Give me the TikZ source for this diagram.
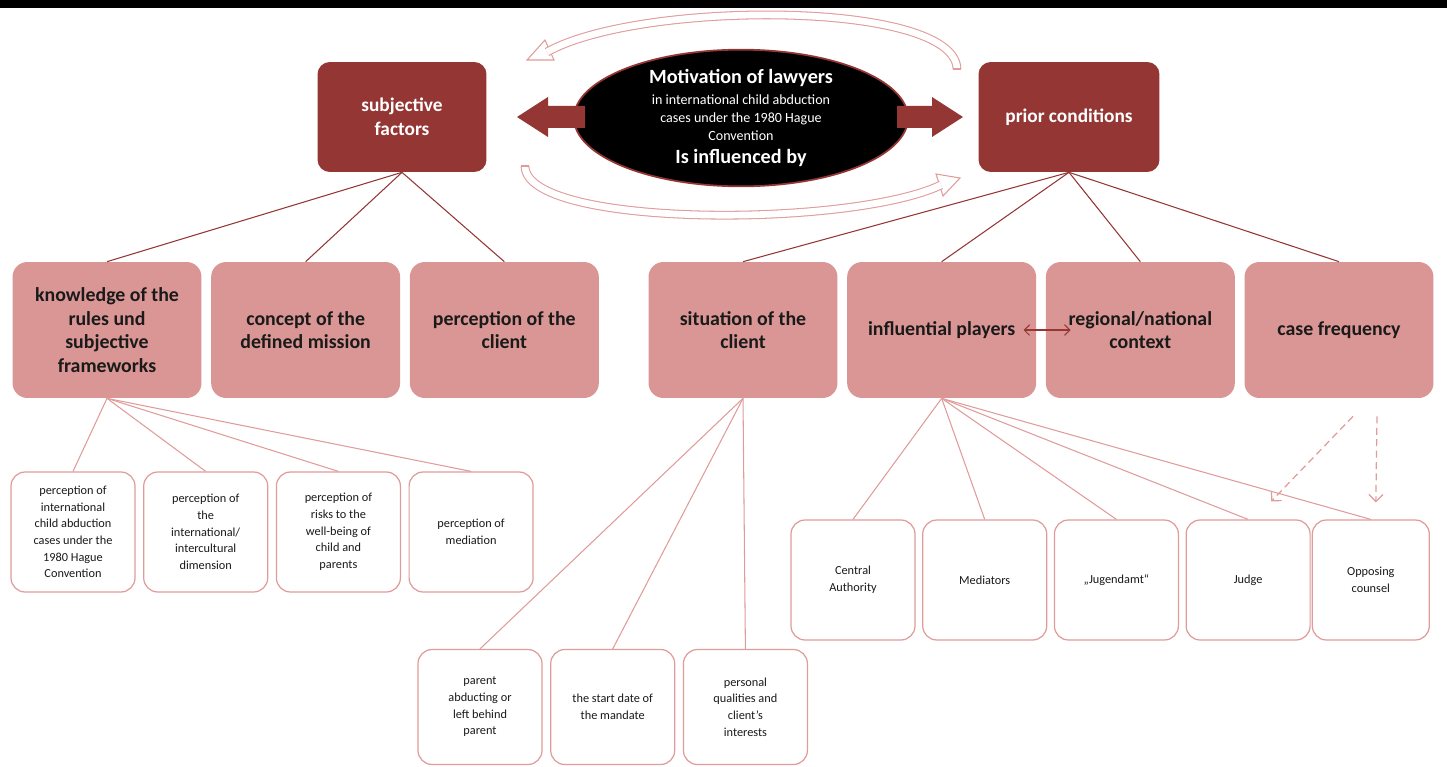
\documentclass[tikz,border=0pt]{standalone}
\usepackage{fontspec}
\setmainfont{Carlito}
\usepackage{tikz}
\usetikzlibrary{arrows.meta,calc,positioning,shapes.geometric}
\definecolor{darkred}{HTML}{943634}
\definecolor{rose}{HTML}{D99694}
\definecolor{roseedge}{HTML}{E09C9A}
\definecolor{ink}{HTML}{1A1A1A}

\begin{document}
\begin{tikzpicture}[x=0.02cm,y=-0.02cm,>={Straight Barb[length=3pt,width=6pt]},
  topbox/.style={fill=darkred,rounded corners=7pt,text=white,font=\bfseries\fontsize{11}{13.4}\selectfont,align=center,minimum height=2.2cm},
  midbox/.style={fill=rose,rounded corners=8.5pt,text=ink,font=\bfseries\fontsize{11.3}{13.4}\selectfont,align=center,minimum width=3.78cm,minimum height=2.72cm},
  leafbox/.style={draw=roseedge,line width=0.7pt,fill=white,rounded corners=8pt,text=ink,font=\fontsize{7}{9.5}\selectfont,align=center,minimum width=2.48cm,minimum height=2.4cm},
  darkline/.style={draw=darkred,line width=0.6pt},
  leafline/.style={draw=roseedge,line width=0.6pt},
  bendarrow/.style={draw=roseedge,line width=0.6pt,double=white,double distance=3.8pt},
  bendhead/.style={draw=roseedge,fill=white,line width=0.6pt,line join=miter},
  dasharrow/.style={draw=roseedge,line width=0.7pt,dash pattern=on 4pt off 2.5pt,-{Straight Barb[length=4pt,width=8pt]}}]
\useasboundingbox (0,0) rectangle (1447,767);
\fill[white] (0,0) rectangle (1447,767);
\fill[black] (0,0) rectangle (1447,8);

% circular arrows round the centre
\coordinate (ta) at (957,69); \coordinate (tb) at (525,166);
\filldraw[bendhead] (527,60) -- (554,60) -- (545,40) -- cycle;
\draw[bendarrow] (ta) .. controls (955,0) and (640,0) .. (547,52);
\draw[roseedge,line width=0.6pt] ($(ta)+(-4.4,0)$) -- ($(ta)+(4.4,0)$);
\filldraw[bendhead] (960,178) -- (943,196) -- (936,174) -- cycle;
\draw[bendarrow] (tb) .. controls (525,228) and (850,228) .. (941,185);
\draw[roseedge,line width=0.6pt] ($(tb)+(-4.4,0)$) -- ($(tb)+(4.4,0)$);

\node[ellipse,fill=black,draw=darkred,line width=1pt,minimum width=6.68cm,minimum height=2.62cm,inner sep=0pt,text=white,align=center,font=\fontsize{8}{10.2}\selectfont] (mot) at (741,118) {{\bfseries\fontsize{11.5}{14}\selectfont Motivation of lawyers}\\[1.7pt]in international child abduction\\cases under the 1980 Hague\\Convention\\[2.6pt]{\bfseries\fontsize{11.5}{14}\selectfont Is influenced by}};
\fill[darkred] (585,106) -- (548,106) -- (548,97) -- (517,117) -- (548,137) -- (548,128) -- (585,128) -- cycle;
\fill[darkred] (897,106) -- (932,106) -- (932,97) -- (963,117) -- (932,137) -- (932,128) -- (897,128) -- cycle;

\node[topbox,minimum width=3.38cm] (sf) at (402,117) {subjective\\factors};
\node[topbox,minimum width=3.62cm] (pc) at (1069,117) {prior conditions};

\node[midbox] (kn) at (107,330) {knowledge of the\\rules und\\subjective\\frameworks};
\node[midbox,right=0.18cm of kn] (cm) {concept of the\\defined mission};
\node[midbox,right=0.18cm of cm] (pcl) {perception of the\\client};
\node[midbox] (sc) at (743,330) {situation of the\\client};
\node[midbox,right=0.18cm of sc] (ip) {influential players};
\node[midbox,right=0.18cm of ip] (rn) {regional/national\\context};
\node[midbox,right=0.18cm of rn] (cf) {case frequency};

\node[leafbox] (k1) at (73,532) {perception of\\international\\child abduction\\cases under the\\1980 Hague\\Convention};
\node[leafbox,right=0.15cm of k1] (k2) {perception of\\the\\international/\\intercultural\\dimension};
\node[leafbox,right=0.15cm of k2] (k3) {perception of\\risks to the\\well-being of\\child and\\parents};
\node[leafbox,right=0.15cm of k3] (k4) {perception of\\mediation};

\node[leafbox,minimum height=2.3cm] (s1) at (480,707) {parent\\abducting or\\left behind\\parent};
\node[leafbox,minimum height=2.3cm,right=0.15cm of s1] (s2) {the start date of\\the mandate};
\node[leafbox,minimum height=2.3cm,right=0.15cm of s2] (s3) {personal\\qualities and\\client’s\\interests};

\node[leafbox] (p1) at (853,580) {Central\\Authority};
\node[leafbox,right=0.13cm of p1] (p2) {Mediators};
\node[leafbox,right=0.13cm of p2] (p3) {„Jugendamt“};
\node[leafbox,right=0.13cm of p3] (p4) {Judge};
\node[leafbox,minimum width=2.34cm,right=0.02cm of p4] (p5) {Opposing\\counsel};

\draw[darkline] (sf.south) -- (kn.north); \draw[darkline] (sf.south) -- (cm.north); \draw[darkline] (sf.south) -- (pcl.north);
\draw[darkline] (pc.south) -- (sc.north); \draw[darkline] (pc.south) -- (ip.north); \draw[darkline] (pc.south) -- (rn.north); \draw[darkline] (pc.south) -- (cf.north);
\draw[leafline] (kn.south) -- (k1.north); \draw[leafline] (kn.south) -- (k2.north); \draw[leafline] (kn.south) -- (k3.north); \draw[leafline] (kn.south) -- (k4.north);
\draw[leafline] (sc.south) -- (s1.north); \draw[leafline] (sc.south) -- (s2.north); \draw[leafline] (sc.south) -- (s3.north);
\draw[leafline] (ip.south) -- (p1.north); \draw[leafline] (ip.south) -- (p2.north); \draw[leafline] (ip.south) -- (p3.north); \draw[leafline] (ip.south) -- (p4.north); \draw[leafline] (ip.south) -- (p5.north);
\draw[darkline,<->] ($(ip.east)+(-13,0)$) -- ($(rn.west)+(25,0)$);
\draw[dasharrow] ($(cf.south)+(14,18)$) -- ($(p4.north)+(23,-18)$);
\draw[dasharrow] ($(cf.south)+(38,18)$) -- ($(p5.north)+(5,-17)$);
\end{tikzpicture}
\end{document}
